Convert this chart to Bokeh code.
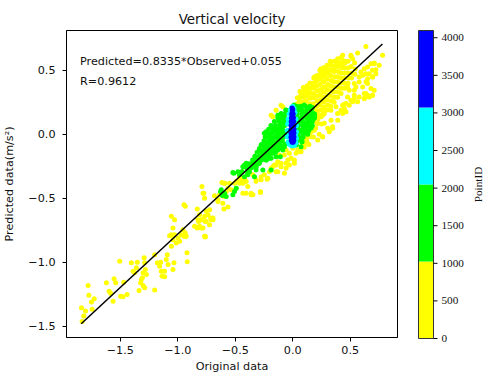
import math
from bokeh.plotting import figure
from bokeh.models import Range1d, FixedTicker, Label
from bokeh.layouts import row
from bokeh.embed import file_html
from bokeh.resources import INLINE

FONT = "DejaVu Sans"

# ---- regression summary ----
slope = 0.8335
intercept = 0.055
r_value = 0.9612
line_x = [-1.84, 0.78]

# ---- observed (x) / predicted (y) pairs, grouped by PointID class ----
yellow_pts = [
    (-1.838, -1.353), (-1.803, -1.379), (-1.780, -1.180), (-1.774, -1.257), (-1.751, -1.309),
    (-1.727, -1.283), (-1.745, -1.366), (-1.818, -1.418), (-1.832, -1.462),
    (-1.621, -1.159), (-1.597, -1.224), (-1.583, -1.242), (-1.563, -1.302), (-1.554, -1.128),
    (-1.540, -1.159), (-1.505, -0.991), (-1.497, -1.263), (-1.476, -1.268), (-1.470, -1.154),
    (-1.441, -1.250), (-1.404, -1.003), (-1.389, -1.068), (-1.375, -1.081), (-1.352, -0.998),
    (-1.360, -1.042), (-1.337, -1.219), (-1.317, -1.133), (-1.323, -1.159), (-1.308, -1.120),
    (-1.302, -1.081), (-1.293, -0.964), (-1.288, -1.003), (-1.282, -1.055), (-1.288, -1.198),
    (-1.273, -1.094), (-1.302, -1.180), (-1.201, -1.216), (-1.201, -0.939), (-1.178, -1.003),
    (-1.158, -1.030), (-1.149, -0.998), (-1.143, -1.068), (-1.137, -1.107), (-1.115, -1.068),
    (-1.100, -0.977), (-1.091, -0.939), (-1.085, -1.016), (-1.115, -1.112), (-1.042, -1.055),
    (-1.033, -1.003), (-1.056, -0.874), (-1.042, -0.822), (-1.028, -0.783), (-1.013, -0.848),
    (-0.998, -0.809), (-0.984, -0.835), (-0.970, -0.783), (-0.955, -0.744), (-0.935, -0.796),
    (-0.920, -0.925), (-0.918, -0.995), (-1.056, -0.783), (-1.071, -0.791), (-1.042, -0.731),
    (-1.028, -0.666), (-0.854, -0.718), (-0.831, -0.731), (-0.811, -0.718), (-0.796, -0.731),
    (-0.767, -0.796), (-0.761, -0.680), (-0.724, -0.705), (-0.694, -0.666), (-0.819, -0.680),
    (-1.056, -0.640), (-0.946, -0.550), (-0.935, -0.562), (-0.926, -0.796), (-0.790, -0.407),
    (-0.781, -0.459), (-0.767, -0.498), (-0.825, -0.666), (-0.752, -0.601), (-0.738, -0.627),
    (-0.723, -0.588), (-0.709, -0.666), (-0.694, -0.653), (-0.761, -0.796), (-0.651, -0.511),
    (-0.637, -0.472), (-0.622, -0.459), (-0.608, -0.537), (-0.599, -0.485), (-0.593, -0.381),
    (-0.579, -0.446), (-0.564, -0.420), (-0.550, -0.381), (-0.506, -0.381), (-0.492, -0.420),
    (-0.477, -0.368), (-0.463, -0.329), (-0.448, -0.355), (-0.434, -0.381), (-0.420, -0.342),
    (-0.405, -0.368), (-0.391, -0.407), (-0.362, -0.459), (-0.347, -0.472), (-0.281, -0.454),
    (-0.434, -0.459), (-0.773, -0.459), (-0.831, -0.583), (-0.811, -0.628), (-0.796, -0.666),
    (-0.767, -0.641), (-0.753, -0.680), (-0.715, -0.653), (-0.811, -0.723), (-0.781, -0.731),
    (-0.761, -0.801), (-0.946, -0.796), (-0.935, -0.770), (-0.681, -0.480), (-0.651, -0.524),
    (-0.616, -0.376), (-0.594, -0.381), (-0.599, -0.583), (-0.564, -0.568), (-0.536, -0.433),
    (-0.492, -0.368), (-0.463, -0.381), (-0.455, -0.355), (-0.405, -0.459), (-0.362, -0.472),
    (-0.281, -0.446), (-0.319, -0.368), (-0.347, -0.316), (-0.377, -0.272), (-0.275, -0.330),
    (-0.223, -0.350), (-0.203, -0.291), (-0.174, -0.252), (-0.145, -0.239), (-0.130, -0.291),
    (-0.102, -0.226), (-0.058, -0.264), (-0.043, -0.200), (0.014, -0.226), (0.029, -0.148),
    (0.072, -0.109), (0.057, -0.122), (-0.030, -0.148), (-0.073, -0.161), (-0.116, -0.161),
    (-0.058, -0.122), (0.000, -0.109), (0.057, -0.135), (-0.015, -0.187), (-0.058, -0.226),
    (-0.102, -0.252), (-0.030, -0.239), (0.014, -0.200), (-0.130, -0.213), (-0.160, -0.239),
    (-0.188, -0.264), (-0.145, -0.291), (-0.073, -0.303), (-0.247, -0.316), (-0.217, -0.342),
    (-0.275, -0.355), (-0.319, -0.355), (-0.420, -0.342),
    (-0.188, 0.150), (-0.145, 0.189), (-0.102, 0.228), (-0.087, 0.215), (-0.174, 0.137),
    (0.636, 0.687), (0.564, 0.635), (0.506, 0.609), (0.521, 0.591), (0.448, 0.572),
    (0.434, 0.552), (0.405, 0.552), (0.376, 0.539), (0.361, 0.513), (0.332, 0.500),
    (0.304, 0.495), (0.274, 0.513), (0.289, 0.474), (0.260, 0.461), (0.231, 0.448),
    (0.202, 0.422), (0.188, 0.397), (0.174, 0.370), (0.144, 0.344), (0.130, 0.331),
    (0.115, 0.319), (0.781, 0.617), (0.752, 0.539), (0.708, 0.552), (0.680, 0.552),
    (0.651, 0.526), (0.622, 0.513), (0.694, 0.500), (0.723, 0.474), (0.665, 0.474),
    (0.636, 0.474), (0.608, 0.461), (0.593, 0.487), (0.578, 0.448), (0.651, 0.435),
    (0.694, 0.448), (0.578, 0.409), (0.535, 0.397), (0.549, 0.370), (0.608, 0.370),
    (0.651, 0.397), (0.680, 0.358), (0.708, 0.344), (0.651, 0.306), (0.622, 0.319),
    (0.578, 0.292), (0.535, 0.306), (0.506, 0.267), (0.491, 0.228), (0.448, 0.202),
    (0.419, 0.189), (0.434, 0.163), (0.463, 0.241), (0.564, 0.254), (0.622, 0.280),
    (0.665, 0.292), (0.694, 0.306), (0.535, 0.344), (0.491, 0.344), (0.477, 0.370),
    (0.188, 0.033), (0.217, 0.086), (0.246, 0.137), (0.274, 0.163), (0.332, 0.189),
    (0.376, 0.215), (0.434, 0.228), (0.304, 0.047), (0.347, 0.059), (0.318, 0.020),
    (0.260, -0.019), (0.217, -0.044), (0.159, -0.019), (0.477, 0.292), (0.521, 0.254),
    (0.130, -0.070), (0.072, -0.096), (0.043, -0.122), (0.274, 0.086), (0.391, 0.111),
    (0.448, 0.176), (0.709, 0.557), (0.723, 0.505), (0.694, 0.448), (0.637, 0.410),
    (0.637, 0.319), (0.694, 0.306), (0.622, 0.280), (0.535, 0.280), (0.448, 0.236),
    (0.463, 0.176), (0.390, 0.163), (0.333, 0.111), (0.347, 0.047), (0.260, -0.018),
    (0.072, -0.135), (0.101, 0.319), (0.072, 0.292), (0.057, 0.254), (0.115, 0.358),
    (0.188, 0.448), (0.246, 0.513), (0.332, 0.565), (0.391, 0.591), (0.434, 0.617),
    (0.506, 0.617),
    (0.20, 0.05), (0.22, 0.12), (0.18, -0.02), (0.25, 0.08), (0.16, 0.02), (0.23, 0.00),
    (0.12, -0.05), (0.10, -0.10), (0.14, -0.08), (0.20, 0.16), (0.26, 0.15),
    (0.04, 0.24), (0.04, 0.285), (0.065, 0.22), (0.06, 0.262), (0.068, 0.30), (0.062, 0.335),
    (0.09, 0.25), (0.094, 0.29), (0.088, 0.33), (0.092, 0.365), (0.09, -0.05), (0.095, -0.085),
    (0.12, 0.22), (0.118, 0.262), (0.124, 0.30), (0.12, 0.342), (0.126, 0.38), (0.12, 0.05),
    (0.125, -0.02), (0.15, 0.20), (0.148, 0.24), (0.154, 0.282), (0.15, 0.32), (0.156, 0.36),
    (0.15, 0.402), (0.152, 0.08), (0.146, 0.02), (0.18, 0.16), (0.183, 0.20), (0.178, 0.24),
    (0.182, 0.285), (0.18, 0.32), (0.185, 0.36), (0.179, 0.40), (0.183, 0.44), (0.18, 0.10),
    (0.176, 0.05), (0.21, 0.13), (0.213, 0.18), (0.208, 0.22), (0.212, 0.26), (0.21, 0.30),
    (0.215, 0.34), (0.209, 0.38), (0.212, 0.42), (0.21, 0.46), (0.214, 0.085), (0.24, 0.15),
    (0.243, 0.19), (0.238, 0.23), (0.242, 0.27), (0.24, 0.31), (0.245, 0.35), (0.239, 0.39),
    (0.243, 0.43), (0.24, 0.47), (0.236, 0.50), (0.27, 0.17), (0.273, 0.21), (0.268, 0.25),
    (0.272, 0.29), (0.27, 0.33), (0.275, 0.37), (0.269, 0.41), (0.273, 0.45), (0.27, 0.49),
    (0.268, 0.52), (0.30, 0.19), (0.303, 0.23), (0.298, 0.27), (0.302, 0.31), (0.30, 0.35),
    (0.305, 0.39), (0.299, 0.43), (0.303, 0.47), (0.30, 0.51), (0.298, 0.54), (0.33, 0.22),
    (0.333, 0.26), (0.328, 0.30), (0.332, 0.34), (0.33, 0.38), (0.335, 0.42), (0.329, 0.46),
    (0.333, 0.50), (0.33, 0.54), (0.326, 0.57), (0.36, 0.25), (0.363, 0.29), (0.358, 0.33),
    (0.362, 0.37), (0.36, 0.41), (0.365, 0.45), (0.359, 0.49), (0.363, 0.53), (0.36, 0.57),
    (0.39, 0.29), (0.393, 0.33), (0.388, 0.37), (0.392, 0.41), (0.39, 0.45), (0.395, 0.49),
    (0.389, 0.53), (0.393, 0.57), (0.42, 0.32), (0.423, 0.36), (0.418, 0.40), (0.422, 0.44),
    (0.42, 0.48), (0.425, 0.52), (0.419, 0.56), (0.423, 0.60), (0.45, 0.36), (0.453, 0.40),
    (0.448, 0.44), (0.452, 0.48), (0.45, 0.52), (0.455, 0.56), (0.48, 0.40), (0.483, 0.44),
    (0.478, 0.48), (0.482, 0.52), (0.48, 0.57), (0.51, 0.44), (0.513, 0.48), (0.508, 0.53),
    (0.54, 0.47), (0.543, 0.51), (0.538, 0.56),
]

green_pts = [
    (-0.521, -0.298), (-0.477, -0.291), (-0.434, -0.252), (-0.420, -0.239), (-0.405, -0.226),
    (-0.391, -0.264), (-0.377, -0.291), (-0.362, -0.239), (-0.347, -0.226), (-0.333, -0.200),
    (-0.319, -0.252), (-0.304, -0.213), (-0.275, -0.187), (-0.260, -0.148), (-0.290, -0.122),
    (-0.247, -0.122), (-0.232, -0.096), (-0.217, -0.161), (-0.203, -0.135), (-0.188, -0.187),
    (-0.174, -0.148), (-0.160, -0.109), (-0.145, -0.070), (-0.130, -0.122), (-0.116, -0.083),
    (-0.188, -0.278), (-0.232, -0.200), (-0.622, -0.433), (-0.608, -0.472), (-0.594, -0.459),
    (-0.579, -0.485), (-0.521, -0.472), (-0.507, -0.446), (-0.492, -0.420), (-0.391, -0.303),
    (-0.420, -0.330), (-0.463, -0.316), (-0.275, -0.083), (-0.260, -0.278),
    (-0.247, 0.008), (-0.232, 0.020), (-0.203, -0.019), (-0.188, 0.008), (-0.160, 0.033),
    (-0.174, -0.044), (-0.145, -0.019), (-0.130, -0.070), (-0.116, 0.008), (-0.102, 0.047),
    (-0.102, -0.044), (-0.087, 0.086), (-0.073, 0.020), (-0.058, 0.111), (-0.073, -0.096),
    (-0.043, -0.070), (-0.130, 0.150), (-0.116, 0.124), (-0.102, 0.163), (-0.058, 0.189),
    (0.043, 0.215), (0.072, 0.189), (0.101, 0.163), (0.130, 0.202), (0.144, 0.137),
    (0.087, 0.086), (0.043, 0.098), (0.057, 0.033), (0.087, -0.019), (0.115, 0.020),
    (0.043, -0.044), (0.072, -0.096), (0.029, -0.083), (-0.260, -0.174), (-0.232, -0.148),
    (-0.203, -0.187), (-0.290, -0.226), (-0.319, -0.278), (-0.362, -0.252), (-0.333, -0.330),
    (-0.391, -0.316), (-0.217, -0.070), (-0.160, -0.122), (-0.188, -0.148), (-0.145, -0.174),
    (-0.087, -0.122), (-0.108, -0.174),
    (0.03, 0.22), (0.07, 0.22), (0.11, 0.22), (0.15, 0.22),
    (-0.06, 0.19), (0.04, 0.19), (0.08, 0.19), (0.12, 0.19), (0.16, 0.19),
    (-0.10, 0.16), (-0.07, 0.16), (0.04, 0.16), (0.08, 0.16), (0.12, 0.16), (0.16, 0.16), (0.19, 0.16),
    (-0.13, 0.13), (-0.10, 0.13), (-0.07, 0.13), (0.04, 0.13), (0.08, 0.13), (0.12, 0.13), (0.16, 0.13), (0.19, 0.13),
    (-0.16, 0.10), (-0.12, 0.10), (-0.08, 0.10), (0.05, 0.10), (0.09, 0.10), (0.13, 0.10), (0.17, 0.10),
    (-0.19, 0.07), (-0.15, 0.07), (-0.11, 0.07), (-0.07, 0.07), (0.05, 0.07), (0.09, 0.07), (0.13, 0.07), (0.17, 0.07),
    (-0.21, 0.04), (-0.17, 0.04), (-0.13, 0.04), (-0.09, 0.04), (0.05, 0.04), (0.09, 0.04), (0.13, 0.04),
    (-0.22, 0.01), (-0.18, 0.01), (-0.14, 0.01), (-0.10, 0.01), (-0.06, 0.01), (0.05, 0.01), (0.09, 0.01), (0.12, 0.01),
    (-0.24, -0.02), (-0.20, -0.02), (-0.16, -0.02), (-0.12, -0.02), (-0.08, -0.02), (0.05, -0.02), (0.09, -0.02),
    (-0.25, -0.05), (-0.21, -0.05), (-0.17, -0.05), (-0.13, -0.05), (-0.09, -0.05), (0.04, -0.05), (0.08, -0.05),
    (-0.27, -0.08), (-0.23, -0.08), (-0.19, -0.08), (-0.15, -0.08), (-0.11, -0.08), (-0.07, -0.08), (0.03, -0.08),
    (-0.29, -0.11), (-0.25, -0.11), (-0.21, -0.11), (-0.17, -0.11), (-0.13, -0.11), (-0.09, -0.11),
    (-0.31, -0.14), (-0.27, -0.14), (-0.23, -0.14), (-0.19, -0.14), (-0.15, -0.14),
    (-0.33, -0.17), (-0.29, -0.17), (-0.25, -0.17), (-0.21, -0.17),
    (-0.35, -0.20), (-0.31, -0.20), (-0.27, -0.20), (-0.23, -0.20),
    (-0.38, -0.23), (-0.34, -0.23), (-0.30, -0.23),
    (-0.40, -0.26), (-0.36, -0.26), (-0.32, -0.26),
    (-0.44, -0.29), (-0.39, -0.29),
    (0.12, 0.08), (0.15, 0.10), (0.18, 0.12), (0.16, 0.05), (0.13, 0.00), (0.10, 0.05),
    (0.06, 0.12), (0.17, 0.17), (0.19, 0.14), (0.11, 0.14), (0.08, -0.06), (0.05, -0.02),
    (0.14, 0.03), (0.17, 0.21), (0.10, 0.23), (0.01, 0.23),
    (-0.628, -0.446), (-0.613, -0.477), (-0.512, -0.303), (-0.425, -0.251),
]

cyan_pts = [
    (-0.040, -0.06), (-0.048, -0.02), (-0.048, 0.03), (-0.044, 0.08), (-0.040, 0.12),
    (-0.032, 0.16), (-0.022, 0.19), (-0.012, 0.21), (0.0, 0.22), (0.012, 0.20),
    (0.02, 0.17), (0.028, 0.12), (0.032, 0.07), (0.032, 0.02), (0.032, -0.03),
    (0.028, -0.065), (0.015, -0.085), (0.0, -0.09), (-0.018, -0.085), (-0.032, -0.075),
    (-0.03, 0.0), (0.025, 0.0), (0.025, 0.08), (-0.035, 0.10),
]

blue_pts = [
    (-0.006, 0.205), (0.0, 0.195), (-0.004, 0.18), (-0.01, 0.16), (0.004, 0.16),
    (-0.012, 0.13), (0.006, 0.13), (-0.014, 0.10), (0.008, 0.10), (-0.015, 0.07),
    (0.01, 0.07), (-0.016, 0.04), (0.011, 0.04), (-0.016, 0.01), (0.011, 0.01),
    (-0.016, -0.02), (0.011, -0.02), (-0.013, -0.045), (0.009, -0.045), (-0.006, -0.062),
    (0.004, -0.062), (0.0, 0.0), (0.0, 0.05), (0.0, 0.1), (-0.005, -0.03), (0.005, 0.03),
]

class_bounds = [0, 1024, 2048, 3072, 4096]
class_colors = ["#ffff00", "#00ff00", "#00ffff", "#0000ff"]
point_groups = [yellow_pts, green_pts, cyan_pts, blue_pts]

x_ticks = [-1.5, -1.0, -0.5, 0.0, 0.5]
y_ticks = [-1.5, -1.0, -0.5, 0.0, 0.5]
cbar_ticks = [0, 500, 1000, 1500, 2000, 2500, 3000, 3500, 4000]
cbar_title = "PointID"


def fmt_tick(v):
    return f"{v:.1f}".replace("-", "\u2212")


def style_axis(ax, size="11.2px"):
    ax.axis_line_color = "black"
    ax.major_tick_line_color = "black"
    ax.minor_tick_line_color = None
    ax.major_tick_in = 0
    ax.major_tick_out = 4
    ax.major_label_standoff = 4
    ax.major_label_text_font = FONT
    ax.major_label_text_font_size = size
    ax.major_label_text_color = "#111111"
    ax.axis_label_text_font = FONT
    ax.axis_label_text_font_size = size
    ax.axis_label_text_font_style = "normal"
    ax.axis_label_text_color = "#111111"


FIG_H, TOP, BOTTOM = 375, 30, 37

p = figure(width=406, height=FIG_H,
           x_range=Range1d(-1.968, 0.911), y_range=Range1d(-1.586, 0.811),
           title="Vertical velocity", output_backend="svg", toolbar_location=None,
           min_border_left=65, min_border_right=9, min_border_top=TOP, min_border_bottom=BOTTOM)
p.title.text_font = FONT
p.title.text_font_size = "13.4px"
p.title.text_font_style = "normal"
p.title.text_color = "#111111"
p.title.align = "center"
p.title.standoff = 7
p.grid.visible = False
p.outline_line_color = "black"
p.outline_line_width = 1
p.background_fill_color = "white"

for pts, col in zip(point_groups, class_colors):
    p.scatter([a for a, b in pts], [b for a, b in pts], size=5,
              fill_color=col, line_color=None)

p.line(line_x, [slope * v + intercept for v in line_x], line_color="black", line_width=1.5)

p.xaxis.ticker = FixedTicker(ticks=x_ticks)
p.yaxis.ticker = FixedTicker(ticks=y_ticks)
p.xaxis.major_label_overrides = {v: fmt_tick(v) for v in x_ticks}
p.yaxis.major_label_overrides = {v: fmt_tick(v) for v in y_ticks}
p.xaxis.axis_label = "Original data"
p.yaxis.axis_label = "Predicted data(m/s\u00b2)"
style_axis(p.xaxis[0])
style_axis(p.yaxis[0])
p.yaxis.major_label_standoff = 7
p.xaxis.axis_label_standoff = 3
p.yaxis.axis_label_standoff = 9

p.add_layout(Label(x=-1.85, y=0.572, text=f"Predicted={slope:.4f}*Observed+{intercept:.3f}",
                   text_font=FONT, text_font_size="11.2px", text_baseline="middle",
                   text_color="#111111"))
p.add_layout(Label(x=-1.85, y=0.414, text=f"R={r_value:.4f}",
                   text_font=FONT, text_font_size="11.2px", text_baseline="middle",
                   text_color="#111111"))

# ---- colour bar drawn as its own small figure (x in screen pixels of that panel) ----
CB_W = 78
BAR_L, BAR_R = 12, 27
TICK_LEN, LABEL_GAP, TITLE_X = 4, 8, 71
PAD = 12  # extra pixels above/below the bar so the end labels are not clipped
bar_px = FIG_H - TOP - BOTTOM
pad_units = class_bounds[-1] * PAD / bar_px

cb = figure(width=CB_W, height=FIG_H, x_range=Range1d(0, CB_W),
            y_range=Range1d(class_bounds[0] - pad_units, class_bounds[-1] + pad_units),
            output_backend="svg", toolbar_location=None,
            x_axis_location=None, y_axis_location=None,
            min_border_left=0, min_border_right=0,
            min_border_top=TOP - PAD, min_border_bottom=BOTTOM - PAD)
if "frame_align" in cb.properties():
    cb.frame_align = False
    p.frame_align = False
cb.grid.visible = False
cb.outline_line_color = None
cb.quad(left=BAR_L, right=BAR_R, bottom=class_bounds[:-1], top=class_bounds[1:],
        fill_color=class_colors, line_color=None)
cb.quad(left=BAR_L, right=BAR_R, bottom=class_bounds[0], top=class_bounds[-1],
        fill_color=None, line_color="#333333", line_width=1)
cb.segment(x0=[BAR_R] * len(cbar_ticks), y0=cbar_ticks,
           x1=[BAR_R + TICK_LEN] * len(cbar_ticks), y1=cbar_ticks,
           line_color="black", line_width=1)
cb.text(x=[BAR_R + LABEL_GAP] * len(cbar_ticks), y=cbar_ticks,
        text=[str(t) for t in cbar_ticks], text_align="left", text_baseline="middle",
        text_font=FONT, text_font_size="11.2px", text_color="#111111")
cb.text(x=[TITLE_X], y=[class_bounds[2]], text=[cbar_title], angle=math.pi / 2,
        text_align="center", text_baseline="middle",
        text_font=FONT, text_font_size="11.2px", text_color="#111111")

layout = row(p, cb)
open("out.html", "w").write(file_html(layout, INLINE))
